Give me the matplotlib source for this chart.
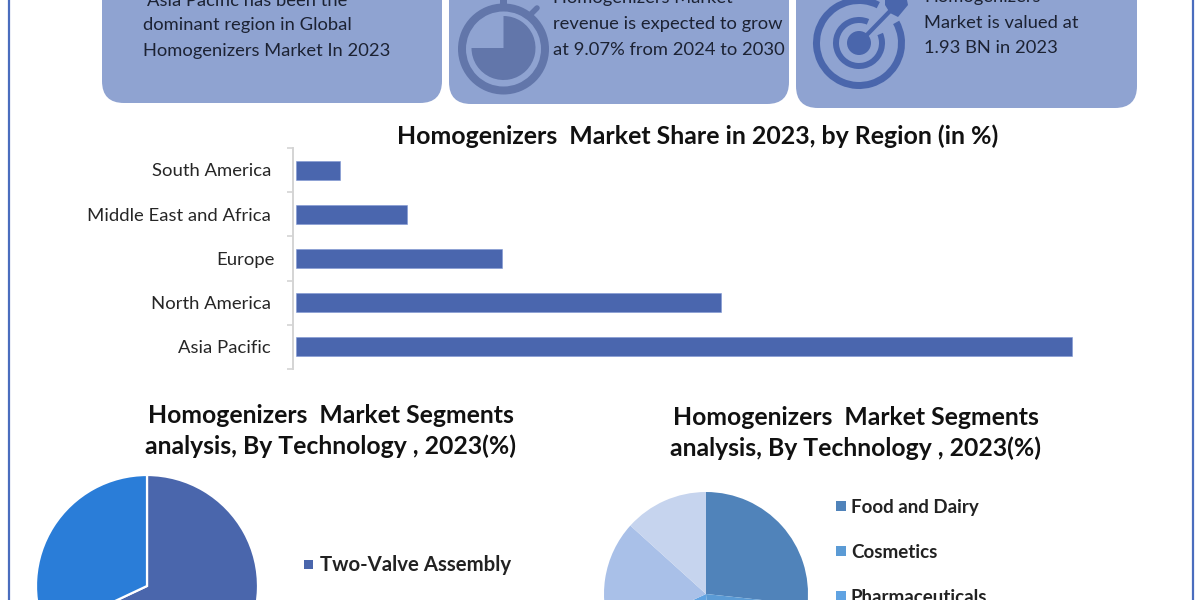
import matplotlib
matplotlib.use('Agg')
import matplotlib.pyplot as plt
from matplotlib.patches import FancyBboxPatch, Circle, Wedge, Rectangle, Polygon

plt.rcParams['font.family'] = ['Lato', 'DejaVu Sans']

# datos
regiones = ['South America', 'Middle East and Africa', 'Europe', 'North America', 'Asia Pacific']
share = [2.8, 7.1, 13.2, 27.3, 49.8]
tech_values = [68.0, 32.0]
tech_labels = ['Two-Valve Assembly']
app_values = [26.7, 22.0, 19.4, 18.6, 13.3]
app_labels = ['Food and Dairy', 'Cosmetics', 'Pharmaceuticals']
app_colors = ['#5083BA', '#5B9BD5', '#60A3E2', '#A9C0E8', '#C6D4EE']

titulo_bar = 'Homogenizers  Market Share in 2023, by Region (in %)'
titulo_pie = 'Homogenizers  Market Segments\nanalysis, By Technology , 2023(%)'

CARD = '#8FA3D1'
DARK = '#4A66AC'
RELOJ = '#6276AA'
W, H = 1200, 600


def px_axes(fig, left, top, right, bottom, **kw):
    return fig.add_axes([left / W, 1 - bottom / H, (right - left) / W, (bottom - top) / H], **kw)


fig = plt.figure(figsize=(12, 6), dpi=100)

# capa de fondo en pixeles
bg = fig.add_axes([0, 0, 1, 1])
bg.set_xlim(0, W)
bg.set_ylim(H, 0)
bg.axis('off')

bg.plot([8.5, 8.5], [0, H], color='#4A6DBE', lw=1.6)
bg.plot([1193, 1193], [0, H], color='#4A6DBE', lw=1.6)

# tarjetas
for x0, x1, y1 in [(102, 442, 103), (449, 789, 104), (796, 1137, 108)]:
    bg.add_patch(FancyBboxPatch((x0 + 22, -60), x1 - x0 - 44, y1 + 60 - 22,
                                boxstyle='round,pad=22,rounding_size=22', fc=CARD, ec='none'))

# textos de las tarjetas
for x, y, s in [(147, 1, 'Asia Pacific has been the'),
                (143, 25, 'dominant region in Global'),
                (143, 51, 'Homogenizers Market In 2023'),
                (553, -2, 'Homogenizers Market'),
                (553, 24, 'revenue is expected to grow'),
                (553, 50, 'at 9.07% from 2024 to 2030'),
                (924, -3, 'Homogenizers'),
                (924, 23, 'Market is valued at'),
                (924, 48, '1.93 BN in 2023')]:
    bg.text(x, y, s, fontsize=13.2, color='#1c2233', va='center', ha='left')

# icono cronometro
bg.add_patch(Wedge((503.5, 49), 45.5, 0, 360, width=8, fc=RELOJ, ec='none'))
bg.add_patch(Wedge((503.5, 48), 32, -90, 180, fc=RELOJ, ec='none'))
bg.add_patch(Rectangle((500, 0), 7, 5, fc=RELOJ, ec='none'))
bg.plot([530, 537], [15, 8], color=RELOJ, lw=4, solid_capstyle='round')

# icono diana
bg.add_patch(Wedge((859, 43), 46, -29, 297, width=7, fc=DARK, ec='none'))
bg.add_patch(Wedge((859, 43), 26, -23, 293, width=6, fc=DARK, ec='none'))
bg.add_patch(Circle((859, 43), 12, fc=DARK, ec='none'))
bg.plot([859, 893], [43, 8], color=DARK, lw=3, solid_capstyle='butt')
bg.add_patch(Polygon([(885, 0), (907, 0), (908, 5), (898, 17), (890, 13), (885, 5)], fc=DARK, ec='none'))

# barras
ax = px_axes(fig, 296, 148, 1075, 369)
ax.patch.set_alpha(0)
ax.barh(regiones, share, height=0.43, color='#4A66AE', edgecolor='#7F97D4', linewidth=0.4)
ax.set_xlim(0, 50)
ax.set_ylim(4.5, -0.5)
ax.xaxis.set_visible(False)
for lado in ['top', 'right', 'bottom']:
    ax.spines[lado].set_visible(False)
ax.spines['left'].set_color('#D4D4D4')
ax.spines['left'].set_linewidth(1.4)
ax.spines['left'].set_position(('outward', 2))
ax.set_yticks([i - 0.5 for i in range(6)], minor=False, labels=[''] * 6)
ax.tick_params(axis='y', color='#D4D4D4', length=4, width=1.2)
for i, nombre in enumerate(regiones):
    ax.text(-1.35 if nombre == 'Europe' else -1.6, i + 0.03, nombre, ha='right', va='center',
            fontsize=13.3, color='#262626')

bg.text(697.5, 136, titulo_bar, ha='center', va='center', fontsize=17.9, fontweight='bold', color='#111111')

# pie tecnologia
ax1 = px_axes(fig, 36, 475, 258, 697)
ax1.pie(tech_values, colors=['#4A66AC', '#2A7DD8'], startangle=90, counterclock=False,
        radius=1, wedgeprops={'edgecolor': 'white', 'linewidth': 1.6})
ax1.set_xlim(-1, 1)
ax1.set_ylim(-1, 1)
bg.text(330.5, 431, titulo_pie, ha='center', va='center', fontsize=17.8, fontweight='bold',
        color='#111111', linespacing=1.42)
bg.add_patch(Rectangle((304, 560), 9, 9, fc='#4A66AC', ec='none'))
bg.text(320, 565, tech_labels[0], fontsize=14.7, fontweight='bold', va='center', color='#222222')

# pie aplicacion
ax2 = px_axes(fig, 604, 492, 808, 696)
ax2.pie(app_values, colors=app_colors, startangle=90, counterclock=False, radius=1)
ax2.set_xlim(-1, 1)
ax2.set_ylim(-1, 1)
bg.text(856, 433, titulo_pie, ha='center', va='center', fontsize=17.8, fontweight='bold',
        color='#111111', linespacing=1.42)
for y, col, nombre in zip([506, 551, 596], app_colors, app_labels):
    bg.add_patch(Rectangle((836, y - 5), 10, 10, fc=col, ec='none'))
    bg.text(851, y + 1.5, nombre, fontsize=13.5, fontweight='bold', va='center', color='#222222')

fig.savefig('out.png', dpi=100)
